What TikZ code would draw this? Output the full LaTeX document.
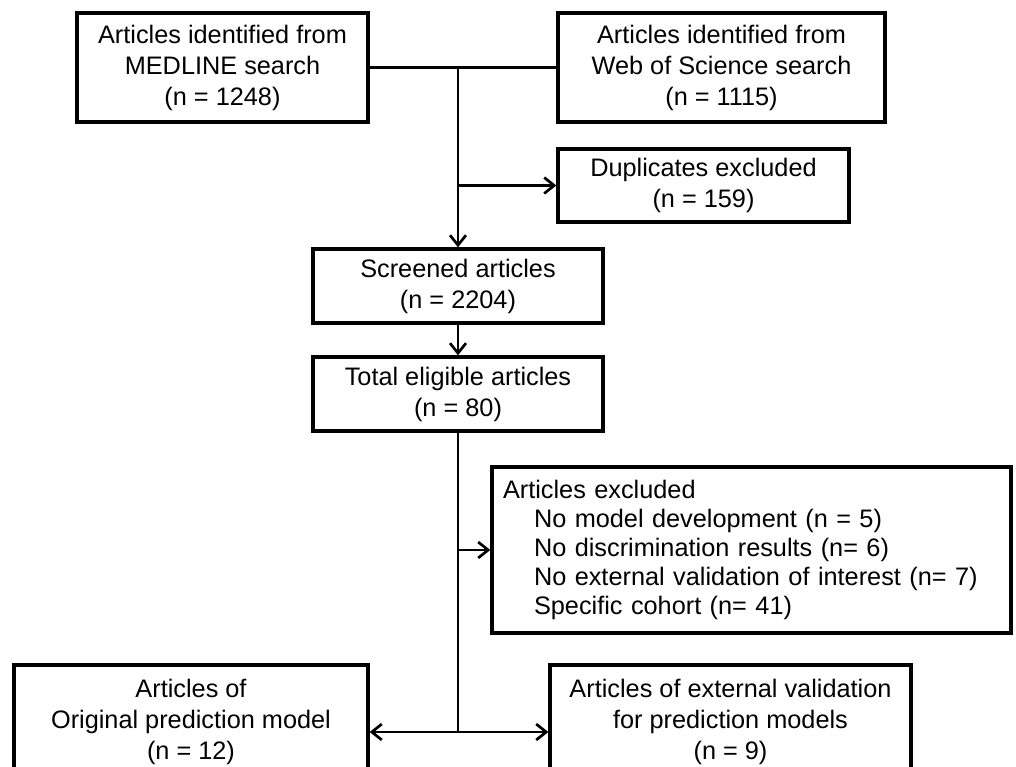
\documentclass[tikz,border=0pt]{standalone}
\usepackage{fontspec}
\setmainfont{Liberation Sans}
\usetikzlibrary{arrows.meta,calc}
\begin{document}
\begin{tikzpicture}[x=1pt,y=-1pt,
  box/.style={draw=black,line width=3.3pt,rectangle,inner sep=0pt,align=center,
    font=\fontsize{25.3}{31}\selectfont},
  conn/.style={draw=black,line width=2.7pt},
  arr/.style={conn,-{Straight Barb[length=10pt,width=16pt,line width=2.7pt]}},
  darr/.style={conn,{Straight Barb[length=10pt,width=16pt,line width=2.7pt]}-{Straight Barb[length=10pt,width=16pt,line width=2.7pt]}}]
\fill[white] (0,0) rectangle (1016,766);
\clip (0,0) rectangle (1016,766);
\node[box,minimum width=291pt,minimum height=109pt] (b1) at (222.5,67.5)
  {Articles identified from\\MEDLINE search\\(n = 1248)};
\node[box,minimum width=327pt,minimum height=109pt] (b2) at (721.5,67.5)
  {Articles identified from\\Web of Science search\\(n = 1115)};
\node[box,minimum width=291pt,minimum height=73pt] (dup) at (703.5,185.5)
  {Duplicates excluded\\(n = 159)};
\node[box,minimum width=290pt,minimum height=74pt] (scr) at (458,286)
  {Screened articles\\(n = 2204)};
\node[box,minimum width=290pt,minimum height=74pt] (tot) at (458,394)
  {Total eligible articles\\(n = 80)};
\node[box,align=left,text width=497pt,inner xsep=11pt,minimum height=166pt,
  font=\fontsize{25.3}{28.8}\selectfont] (exc) at (751.5,550)
  {Articles excluded\\
   \hspace*{31pt}No model development (n = 5)\\
   \hspace*{31pt}No discrimination results (n= 6)\\
   \hspace*{31pt}No external validation of interest (n= 7)\\
   \hspace*{31pt}Specific cohort (n= 41)};
\node[box,minimum width=354pt,minimum height=113pt] (bl) at (191,721.5)
  {Articles of\\Original prediction model\\(n = 12)};
\node[box,minimum width=361pt,minimum height=113pt] (br) at (730.5,721.5)
  {Articles of external validation\\for prediction models\\(n = 9)};
\coordinate (j1) at (scr.north |- b1.east);
\coordinate (j2) at (scr.north |- dup.west);
\coordinate (j3) at (tot.south |- exc.west);
\coordinate (jb) at (459,732);
\draw[conn] (b1.east) -- (b2.west);
\draw[arr] (j1) -- (scr.north);
\draw[arr] (j2) -- (dup.west);
\draw[arr] (scr.south) -- (tot.north);
\draw[conn] (tot.south) -- (tot.south |- jb);
\draw[arr] (j3) -- (exc.west);
\draw[darr] (bl.east |- jb) -- (br.west |- jb);
\end{tikzpicture}
\end{document}
